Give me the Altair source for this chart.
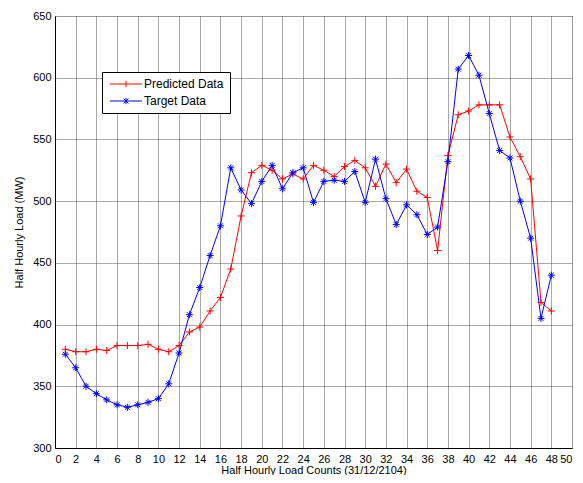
import altair as alt
import pandas as pd

counts = list(range(1, 49))
predicted = [380, 378, 378, 380, 379, 383, 383, 383, 384, 380, 378, 383,
             394, 398, 411, 422, 445, 488, 523, 529, 525, 518, 522, 518,
             529, 525, 520, 528, 533, 527, 512, 530, 515, 526, 508, 503,
             460, 537, 570, 573, 578, 578, 578, 552, 536, 518, 418, 411]
target = [376, 365, 350, 344, 339, 335, 333, 335, 337, 340, 352, 377,
          408, 430, 456, 480, 527, 509, 498, 516, 529, 510, 523, 527,
          499, 516, 517, 516, 524, 499, 534, 502, 481, 497, 489, 473,
          479, 532, 607, 618, 602, 571, 541, 535, 500, 470, 405, 440]
series_names = ["Predicted Data", "Target Data"]
series_colors = ["#ff0000", "#0000ff"]
x_ticks = list(range(0, 51, 2))
y_ticks = list(range(300, 651, 50))

plus_path = "M-1,0L1,0M0,-1L0,1"
star_path = "M-1,0L1,0M0,-1L0,1M-0.7,-0.7L0.7,0.7M-0.7,0.7L0.7,-0.7"
legend_plus = "M-3,0L3,0M0,-0.6L0,0.6"
legend_star = "M-3,0L3,0M0,-0.6L0,0.6M-0.45,-0.45L0.45,0.45M-0.45,0.45L0.45,-0.45"

rows = []
for c, p, t in zip(counts, predicted, target):
    rows.append({"count": c, "load": p, "series": series_names[0], "entry": series_names[0]})
    rows.append({"count": c, "load": t, "series": series_names[1], "entry": series_names[1]})
df = pd.DataFrame(rows)

FONT = "Liberation Sans"
axis_common = dict(ticks=False, labelFont=FONT, titleFont=FONT, labelFontSize=11,
                   titleFontSize=11, labelColor="black", titleColor="black",
                   titleFontWeight="normal", domainColor="black", grid=True,
                   gridColor="#555555", gridDash=[1, 1], gridOpacity=1, gridWidth=1)

xenc = alt.X("count:Q", scale=alt.Scale(domain=[0, 50], nice=False),
             axis=alt.Axis(values=x_ticks, title="Half Hourly Load Counts (31/12/2104)",
                           labelPadding=5, titleY=25, titleBaseline="alphabetic",
                           **axis_common))
yenc = alt.Y("load:Q", scale=alt.Scale(domain=[300, 650], nice=False, zero=False),
             axis=alt.Axis(values=y_ticks, title="Half Hourly Load (MW)",
                           labelPadding=4, titlePadding=8, **axis_common))

lines = alt.Chart(df).mark_line(strokeWidth=1).encode(
    x=xenc, y=yenc,
    color=alt.Color("series:N", scale=alt.Scale(domain=series_names, range=series_colors),
                    legend=None),
)

points = alt.Chart(df).mark_point(filled=False, strokeWidth=1, size=49, opacity=1).encode(
    x=xenc, y=yenc,
    color=alt.Color("series:N", scale=alt.Scale(domain=series_names, range=series_colors),
                    legend=None),
    shape=alt.Shape("series:N", scale=alt.Scale(domain=series_names, range=[plus_path, star_path]),
                    legend=None),
)

legend_kw = dict(title=None, orient="none", legendX=47, legendY=56,
                 fillColor="white", strokeColor="black", padding=6,
                 symbolSize=114, symbolStrokeWidth=1, symbolOpacity=1,
                 symbolOffset=12, labelOffset=12, labelColor="black",
                 labelFontSize=12, labelFont=FONT, rowPadding=5)

legend_layer = alt.Chart(df).mark_point(filled=False, strokeWidth=1, opacity=0).encode(
    x=xenc, y=yenc,
    color=alt.Color("entry:N", scale=alt.Scale(domain=series_names, range=series_colors),
                    legend=alt.Legend(**legend_kw)),
    shape=alt.Shape("entry:N", scale=alt.Scale(domain=series_names, range=[legend_plus, legend_star]),
                    legend=alt.Legend(**legend_kw)),
)

chart = alt.layer(lines, points, legend_layer).resolve_scale(
    color="independent", shape="independent"
).properties(
    width=517, height=432,
    autosize=alt.AutoSizeParams(type="none"),
    padding={"left": 47, "top": 8, "right": 3, "bottom": 27},
).configure_view(stroke="black", strokeWidth=1).configure(background="white")

chart.save("out.html", embed_options={"renderer": "svg", "actions": False})
